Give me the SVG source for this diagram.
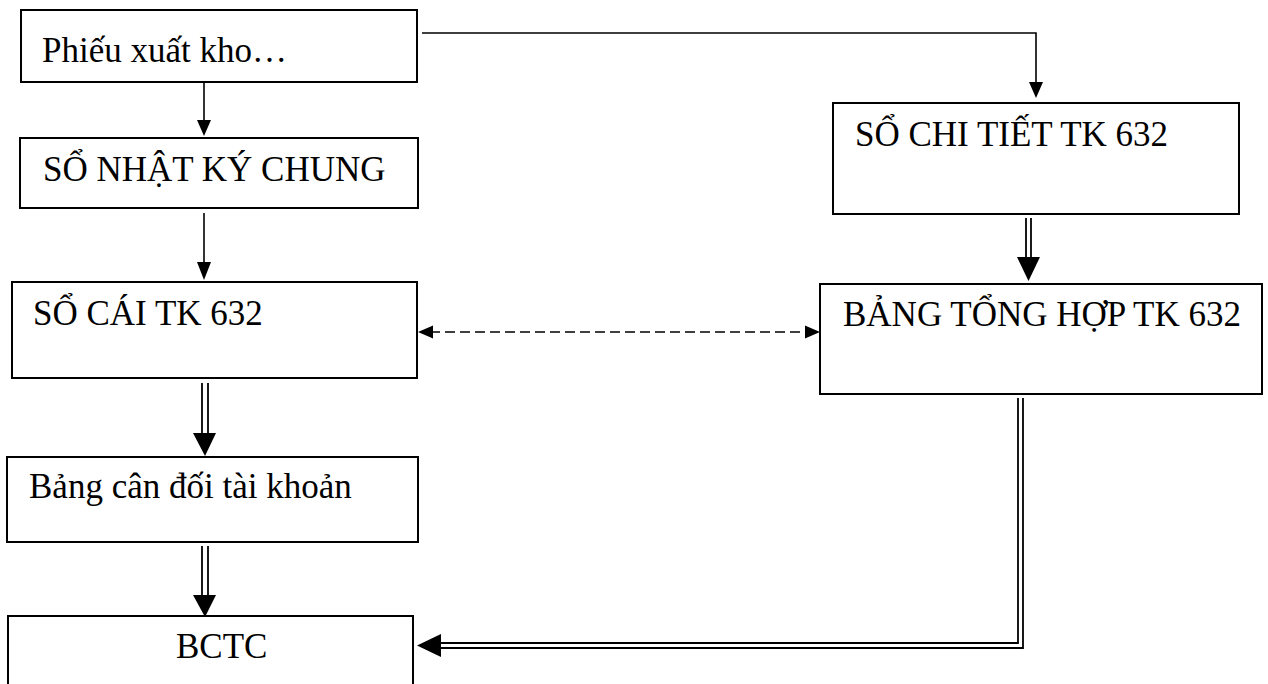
<svg xmlns="http://www.w3.org/2000/svg" width="1268" height="684" viewBox="0 0 1268 684">
  <style>
    .box { fill: #ffffff; stroke: #000000; stroke-width: 2; }
    .lbl { font-family: "Liberation Serif", "Times New Roman", serif; font-size: 35px; fill: #000000; }
    .ln { fill: none; stroke: #000000; stroke-width: 1.6; }
    .dbl { fill: none; stroke: #000000; stroke-width: 1.8; }
    .dash { fill: none; stroke: #000000; stroke-width: 1.6; stroke-dasharray: 10 5; }
    .head { fill: #000000; stroke: none; }
  </style>
  <rect width="1268" height="684" fill="#ffffff"/>

  <g id="connectors">
    <!-- Phiếu xuất kho -> SỔ NHẬT KÝ CHUNG -->
    <line class="ln" x1="204" y1="82" x2="204" y2="122"/>
    <polygon class="head" points="197,120 211,120 204,136"/>
    <!-- SỔ NHẬT KÝ CHUNG -> SỔ CÁI -->
    <line class="ln" x1="204" y1="213" x2="204" y2="264"/>
    <polygon class="head" points="197,262 211,262 204,280"/>
    <!-- Phiếu xuất kho -> SỔ CHI TIẾT -->
    <polyline class="ln" points="422,33 1036,33 1036,85"/>
    <polygon class="head" points="1029,82 1043,82 1036,98"/>
    <!-- SỔ CÁI -> Bảng cân đối (double) -->
    <line class="dbl" x1="202" y1="383" x2="202" y2="436"/>
    <line class="dbl" x1="208" y1="383" x2="208" y2="436"/>
    <polygon class="head" points="193,433 216,433 205,456"/>
    <!-- Bảng cân đối -> BCTC (double) -->
    <line class="dbl" x1="202" y1="546" x2="202" y2="597"/>
    <line class="dbl" x1="208" y1="546" x2="208" y2="597"/>
    <polygon class="head" points="193,595 216,595 205,617"/>
    <!-- SỔ CHI TIẾT -> BẢNG TỔNG HỢP (double) -->
    <line class="dbl" x1="1026" y1="218" x2="1026" y2="260"/>
    <line class="dbl" x1="1031" y1="218" x2="1031" y2="260"/>
    <polygon class="head" points="1017,257 1040,257 1028.5,281"/>
    <!-- SỔ CÁI <-> BẢNG TỔNG HỢP (dashed) -->
    <line class="dash" x1="430" y1="332" x2="808" y2="332"/>
    <polygon class="head" points="418,332 433,325.5 433,338.5"/>
    <polygon class="head" points="820,332 805,325.5 805,338.5"/>
    <!-- BẢNG TỔNG HỢP -> BCTC (double) -->
    <polyline class="dbl" points="1018,398 1018,643 438,643"/>
    <polyline class="dbl" points="1023,398 1023,648 438,648"/>
    <polygon class="head" points="417,645.5 441,634 441,657"/>
  </g>

  <g id="node-phieu-xuat-kho">
    <rect class="box" x="21" y="10" width="396" height="72"/>
    <text class="lbl" x="42" y="62">Phiếu xuất kho…</text>
  </g>
  <g id="node-so-nhat-ky-chung">
    <rect class="box" x="20" y="138" width="398" height="70"/>
    <text class="lbl" x="43" y="181">SỔ NHẬT KÝ CHUNG</text>
  </g>
  <g id="node-so-cai">
    <rect class="box" x="12" y="282" width="405" height="96"/>
    <text class="lbl" x="33" y="325">SỔ CÁI TK 632</text>
  </g>
  <g id="node-bang-can-doi">
    <rect class="box" x="7" y="457" width="411" height="85"/>
    <text class="lbl" x="29" y="498">Bảng cân đối tài khoản</text>
  </g>
  <g id="node-bctc">
    <rect class="box" x="8" y="616" width="405" height="90"/>
    <text class="lbl" x="176" y="658">BCTC</text>
  </g>
  <g id="node-so-chi-tiet">
    <rect class="box" x="833" y="103" width="406" height="111"/>
    <text class="lbl" x="855" y="146">SỔ CHI TIẾT TK 632</text>
  </g>
  <g id="node-bang-tong-hop">
    <rect class="box" x="820" y="284" width="442" height="110"/>
    <text class="lbl" x="843" y="326">BẢNG TỔNG HỢP TK 632</text>
  </g>
</svg>
